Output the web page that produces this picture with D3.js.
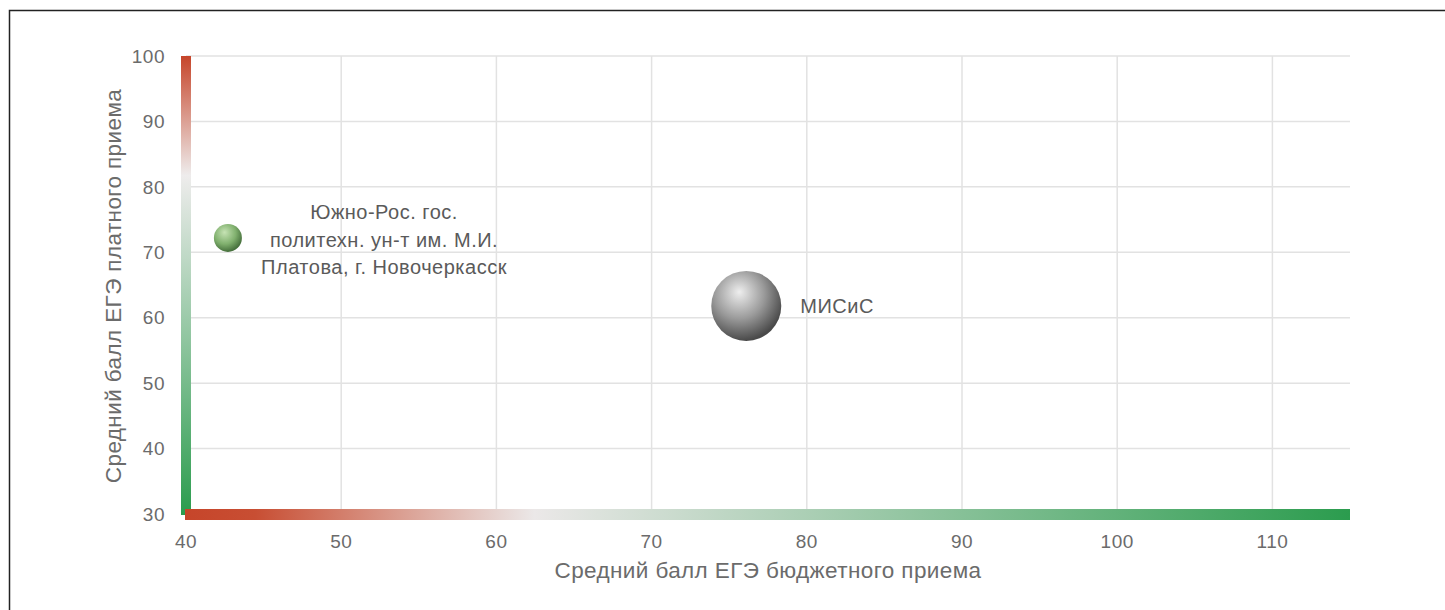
<!DOCTYPE html>
<html><head><meta charset="utf-8">
<script src="https://cdn.jsdelivr.net/npm/d3@7"></script>
<style>body{margin:0;background:#fff;}svg{display:block;font-family:"Liberation Sans",Arial,sans-serif;}</style>
</head><body>
<svg id="c" width="1445" height="610"></svg>
<script>
const names = ["Южно-Рос. гос. политехн. ун-т им. М.И. Платова, г. Новочеркасск", "МИСиС"];
const labelLines = [["Южно-Рос. гос.", "политехн. ун-т им. М.И.", "Платова, г. Новочеркасск"], ["МИСиС"]];
const budgetScore = [42.7, 76.1];
const paidScore = [72.2, 61.8];
const bubbleSize = [160, 1000];
const xTicks = [40, 50, 60, 70, 80, 90, 100, 110];
const yTicks = [30, 40, 50, 60, 70, 80, 90, 100];
const xTitle = "Средний балл ЕГЭ бюджетного приема";
const yTitle = "Средний балл ЕГЭ платного приема";

const svg = d3.select("#c");
const defs = svg.append("defs");
const x = d3.scaleLinear().domain([40, 115]).range([186, 1350]);
const y = d3.scaleLinear().domain([30, 100]).range([514, 56]);
const r = d3.scaleSqrt().domain([0, 1000]).range([0, 35]);

// border
svg.append("rect").attr("x", 9.5).attr("y", 10.5).attr("width", 1500).attr("height", 700)
  .attr("fill", "none").attr("stroke", "#222").attr("stroke-width", 1.5);

// gradients
const hg = defs.append("linearGradient").attr("id", "hg").attr("x1", 0).attr("x2", 1).attr("y1", 0).attr("y2", 0);
hg.append("stop").attr("offset", "0").attr("stop-color", "#c6452a");
hg.append("stop").attr("offset", "0.06").attr("stop-color", "#c84e33");
hg.append("stop").attr("offset", "0.30").attr("stop-color", "#ebe8e8");
hg.append("stop").attr("offset", "1").attr("stop-color", "#2b9c4e");
const vg = defs.append("linearGradient").attr("id", "vg").attr("x1", 0).attr("x2", 0).attr("y1", 0).attr("y2", 1);
vg.append("stop").attr("offset", "0").attr("stop-color", "#c6452a");
vg.append("stop").attr("offset", "0.26").attr("stop-color", "#eeecec");
vg.append("stop").attr("offset", "1").attr("stop-color", "#2b9c4e");

const gg = defs.append("radialGradient").attr("id", "sg").attr("cx", "40%").attr("cy", "35%").attr("r", "65%").attr("fx", "38%").attr("fy", "30%");
gg.append("stop").attr("offset", "0").attr("stop-color", "#c6e3b4");
gg.append("stop").attr("offset", "0.6").attr("stop-color", "#80b06e");
gg.append("stop").attr("offset", "1").attr("stop-color", "#46703c");
const gr = defs.append("radialGradient").attr("id", "sgr").attr("cx", "40%").attr("cy", "35%").attr("r", "65%").attr("fx", "40%").attr("fy", "30%");
gr.append("stop").attr("offset", "0").attr("stop-color", "#eeeeee");
gr.append("stop").attr("offset", "0.55").attr("stop-color", "#9a9a9a");
gr.append("stop").attr("offset", "1").attr("stop-color", "#4a4a4a");
const fills = ["url(#sg)", "url(#sgr)"];

// grid
svg.append("g").selectAll("line").data(yTicks).join("line")
  .attr("x1", x(40)).attr("x2", x(115)).attr("y1", d => y(d)).attr("y2", d => y(d))
  .attr("stroke", "#e2e2e2").attr("stroke-width", 1.5);
svg.append("g").selectAll("line").data(xTicks).join("line")
  .attr("x1", d => x(d)).attr("x2", d => x(d)).attr("y1", y(100)).attr("y2", y(30))
  .attr("stroke", "#e2e2e2").attr("stroke-width", 1.5);

// axis bars
svg.append("rect").attr("x", x(40) - 5).attr("y", y(100)).attr("width", 10).attr("height", y(30) - y(100) + 1)
  .attr("fill", "url(#vg)");
svg.append("rect").attr("x", x(40) - 1).attr("y", y(30) - 5).attr("width", x(115) - x(40) + 1).attr("height", 11)
  .attr("fill", "url(#hg)");

// tick labels
svg.append("g").selectAll("text").data(yTicks).join("text")
  .attr("x", 165).attr("y", d => y(d)).attr("dy", "0.35em").attr("text-anchor", "end")
  .attr("font-size", 19).attr("letter-spacing", 0.5).attr("fill", "#6b6b6b").text(d => d);
svg.append("g").selectAll("text").data(xTicks).join("text")
  .attr("x", d => x(d)).attr("y", 541).attr("dy", "0.35em").attr("text-anchor", "middle")
  .attr("font-size", 19).attr("letter-spacing", 0.5).attr("fill", "#6b6b6b").text(d => d);

// titles
svg.append("text").attr("x", 768).attr("y", 570).attr("dy", "0.35em").attr("text-anchor", "middle")
  .attr("font-size", 22.5).attr("letter-spacing", 0.4).attr("fill", "#6b6b6b").text(xTitle);
svg.append("text").attr("transform", "translate(113,286) rotate(-90)").attr("dy", "0.35em").attr("text-anchor", "middle")
  .attr("font-size", 22.5).attr("letter-spacing", 0.4).attr("fill", "#6b6b6b").text(yTitle);

// bubbles
const idx = d3.range(names.length);
svg.append("g").selectAll("circle").data(idx).join("circle")
  .attr("cx", i => x(budgetScore[i])).attr("cy", i => y(paidScore[i])).attr("r", i => r(bubbleSize[i]))
  .attr("fill", i => fills[i]);

// labels
const lab0 = svg.append("text").attr("text-anchor", "middle").attr("font-size", 20).attr("letter-spacing", 0.5).attr("fill", "#5a5a5a");
labelLines[0].forEach((t, k) => lab0.append("tspan").attr("x", 384).attr("y", 212 + k * 27.5).attr("dy", "0.35em").text(t));
svg.append("text").attr("x", x(budgetScore[1]) + r(bubbleSize[1]) + 19).attr("y", y(paidScore[1]))
  .attr("dy", "0.35em").attr("font-size", 20).attr("letter-spacing", 0.5).attr("fill", "#5a5a5a").text(labelLines[1][0]);
</script>
</body></html>
